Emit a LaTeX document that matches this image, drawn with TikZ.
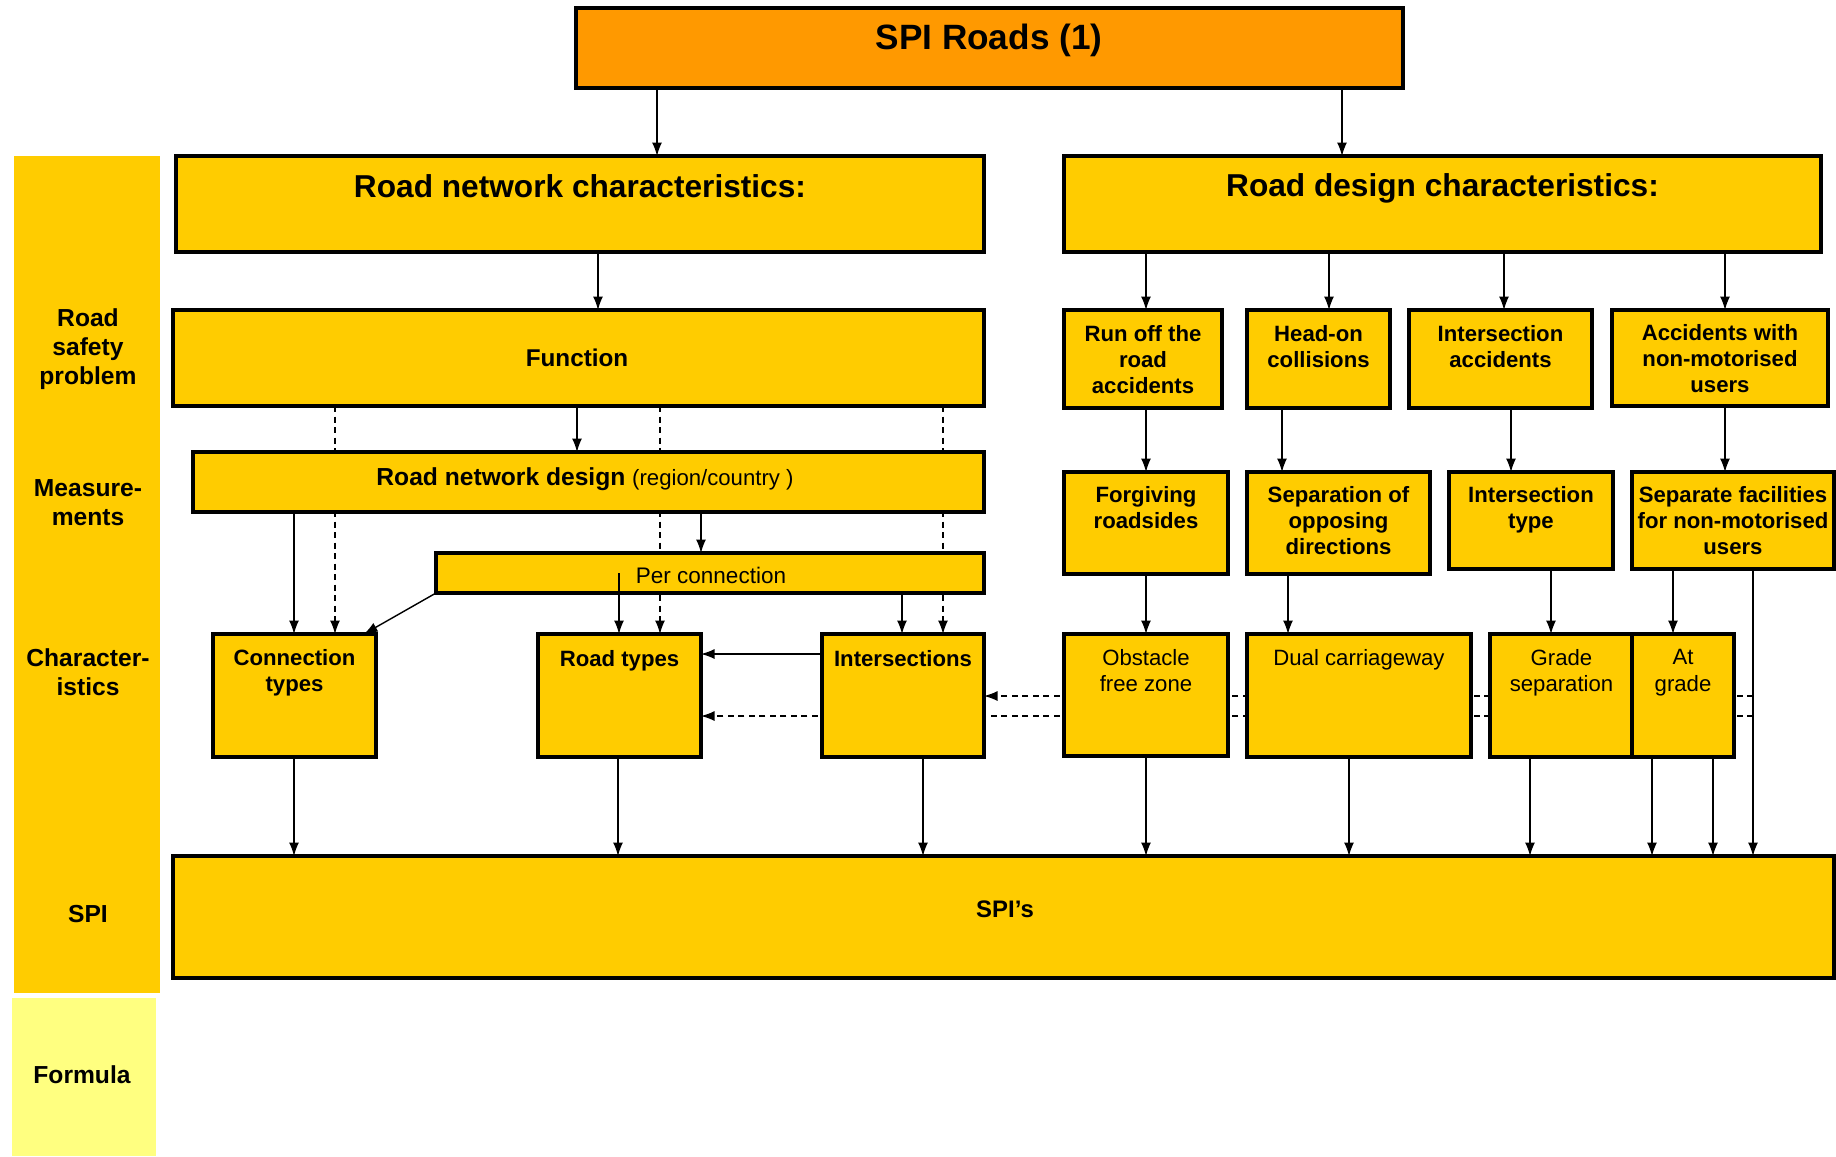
\documentclass[tikz,border=0pt]{standalone}
\usepackage{fontspec}
\setmainfont{Liberation Sans}
\usetikzlibrary{arrows.meta,fit,calc}
\definecolor{ylw}{HTML}{FFCC00}
\definecolor{org}{HTML}{FF9900}
\definecolor{lyl}{HTML}{FFFF80}
\pgfdeclarelayer{bg}
\pgfsetlayers{bg,main}
\begin{document}
\begin{tikzpicture}[x=0.01cm,y=-0.01cm,
 box/.style={draw=black, line width=0.9pt, fill=ylw, inner sep=0pt, outer sep=0pt},
 band/.style={fill=ylw, inner sep=0pt, outer sep=0pt},
 arr/.style={-{Latex[length=1.35mm,width=1mm]}, line width=0.4pt},
 dsh/.style={arr, dash pattern=on 0.6mm off 0.45mm},
 bt/.style={anchor=north, inner sep=0pt, align=center, font=\fontsize{6.3}{7.4}\selectfont\bfseries},
 rtx/.style={anchor=north, inner sep=0pt, align=center, font=\fontsize{6.3}{7.4}\selectfont},
 sidelab/.style={inner sep=0pt, align=center, font=\fontsize{7}{8.2}\selectfont\bfseries},
 ttl/.style={anchor=north, inner sep=0pt, font=\fontsize{9}{11}\selectfont\bfseries}]
\useasboundingbox (0,0) rectangle (1836,1156);

% left column
\node[band, fit={(14,156) (160,993)}] (lcol) {};
\node[band, fill=lyl, fit={(12,998) (156,1156)}] (formula) {};
\node[sidelab] (lab1) at (88,349) {Road\\safety\\problem};
\node[sidelab] (lab2) at (88,503) {Measure-\\ments};
\node[sidelab] (lab3) at (88,672) {Character-\\istics};
\node[sidelab] (lab4) at (88,914) {SPI};
\node[sidelab] (lab5) at (82,1075) {Formula};

% boxes
\node[box, fill=org, fit={(576,8) (1403,88)}] (top) {};
\node[inner sep=0pt, font=\fontsize{10}{12}\selectfont\bfseries] (top-t) at (989,40) {SPI Roads (1)};

\node[box, fit={(176,156) (984,252)}] (rnc) {};
\node[ttl] (rnc-t) at ([yshift=-0.175cm]rnc.north) {Road network characteristics:};
\node[box, fit={(1064,156) (1821,252)}] (rdc) {};
\node[ttl] (rdc-t) at ([yshift=-0.165cm]rdc.north) {Road design characteristics:};

\node[box, fit={(173,310) (984,406)}] (func) {};
\node[inner sep=0pt, font=\fontsize{6.9}{8}\selectfont\bfseries] (func-t) at (577,358) {Function};

\node[box, fit={(193,452) (984,512)}] (rnd) {};
\node[inner sep=0pt] (rnd-t) at (585,479) {\fontsize{7}{8}\selectfont\bfseries Road network design \fontsize{6.3}{8}\selectfont\mdseries(region/country )};

\node[box, fit={(436,553) (984,593)}] (pc) {};
\node[inner sep=0pt, font=\fontsize{6.4}{8}\selectfont] (pc-t) at (711,575) {Per connection};

\node[box, fit={(213,634) (376,757)}] (ct) {};
\node[bt] (ct-t) at ([yshift=-0.15cm]ct.north) {Connection\\types};
\node[box, fit={(538,634) (701,757)}] (rt) {};
\node[bt] (rt-t) at ([yshift=-0.155cm]rt.north) {Road types};
\node[box, fit={(822,634) (984,757)}] (inter) {};
\node[bt] (inter-t) at ([yshift=-0.155cm]inter.north) {Intersections};

% right side problems
\node[box, fit={(1064,310) (1222,408)}] (p1) {};
\node[bt] (p1-t) at ([yshift=-0.15cm]p1.north) {Run off the\\road\\accidents};
\node[box, fit={(1247,310) (1390,408)}] (p2) {};
\node[bt] (p2-t) at ([yshift=-0.15cm]p2.north) {Head-on\\collisions};
\node[box, fit={(1409,310) (1592,408)}] (p3) {};
\node[bt] (p3-t) at ([yshift=-0.15cm]p3.north) {Intersection\\accidents};
\node[box, fit={(1612,310) (1828,406)}] (p4) {};
\node[bt] (p4-t) at ([yshift=-0.14cm]p4.north) {Accidents with\\non-motorised\\users};

% measurements
\node[box, fit={(1064,472) (1228,574)}] (m1) {};
\node[bt] (m1-t) at ([yshift=-0.14cm]m1.north) {Forgiving\\roadsides};
\node[box, fit={(1247,472) (1430,574)}] (m2) {};
\node[bt] (m2-t) at ([yshift=-0.14cm]m2.north) {Separation of\\opposing\\directions};
\node[box, fit={(1449,472) (1613,569)}] (m3) {};
\node[bt] (m3-t) at ([yshift=-0.14cm]m3.north) {Intersection\\type};
\node[box, fit={(1632,472) (1834,569)}] (m4) {};
\node[bt] (m4-t) at ([yshift=-0.14cm]m4.north) {Separate facilities\\for non-motorised\\users};

% characteristics
\node[box, fit={(1064,634) (1228,756)}] (c1) {};
\node[rtx] (c1-t) at ([yshift=-0.15cm]c1.north) {Obstacle\\free zone};
\node[box, fit={(1247,634) (1471,757)}] (c2) {};
\node[rtx] (c2-t) at ([yshift=-0.15cm]c2.north) {Dual carriageway};
\node[box, fit={(1490,634) (1633,757)}] (c3) {};
\node[rtx] (c3-t) at ([yshift=-0.15cm]c3.north) {Grade\\separation};
\node[box, fit={(1632,634) (1734,757)}] (c4) {};
\node[rtx] (c4-t) at ([yshift=-0.15cm]c4.north) {At\\grade};

% SPI
\node[box, fit={(173,856) (1834,978)}] (spi) {};
\node[inner sep=0pt, font=\fontsize{6.8}{8}\selectfont\bfseries] (spi-t) at (1005,909) {SPI\char"27 s};

\coordinate (d1) at (1753,696);
\coordinate (d2) at (1753,716);
\coordinate (pcr) at (619,573);

% hidden (background) connectors
\begin{pgfonlayer}{bg}
\draw[dsh] (335,0 |- func.south) -- (335,0 |- ct.north);
\draw[dsh] (660,0 |- func.south) -- (660,0 |- rt.north);
\draw[dsh] (943,0 |- func.south) -- (943,0 |- inter.north);
\draw[dsh] (d1) -- (d1 -| inter.east);
\draw[dsh] (d2) -- (d2 -| rt.east);
\end{pgfonlayer}

% solid connectors
\draw[arr] (657,0 |- top.south) -- (657,0 |- rnc.north);
\draw[arr] (1342,0 |- top.south) -- (1342,0 |- rdc.north);
\draw[arr] (598,0 |- rnc.south) -- (598,0 |- func.north);
\draw[arr] (577,0 |- func.south) -- (577,0 |- rnd.north);
\draw[arr] (294,0 |- rnd.south) -- (294,0 |- ct.north);
\draw[arr] (701,0 |- rnd.south) -- (701,0 |- pc.north);
\draw[arr] (pc.south west) -- (364,0 |- ct.north);
\draw[arr] (pcr) -- (pcr |- rt.north);
\draw[arr] (902,0 |- pc.south) -- (902,0 |- inter.north);
\draw[arr] (inter.west |- 0,654) -- (rt.east |- 0,654);

\draw[arr] (1146,0 |- rdc.south) -- (1146,0 |- p1.north);
\draw[arr] (1329,0 |- rdc.south) -- (1329,0 |- p2.north);
\draw[arr] (1504,0 |- rdc.south) -- (1504,0 |- p3.north);
\draw[arr] (1725,0 |- rdc.south) -- (1725,0 |- p4.north);

\draw[arr] (1146,0 |- p1.south) -- (1146,0 |- m1.north);
\draw[arr] (1282,0 |- p2.south) -- (1282,0 |- m2.north);
\draw[arr] (1511,0 |- p3.south) -- (1511,0 |- m3.north);
\draw[arr] (1725,0 |- p4.south) -- (1725,0 |- m4.north);

\draw[arr] (1146,0 |- m1.south) -- (1146,0 |- c1.north);
\draw[arr] (1288,0 |- m2.south) -- (1288,0 |- c2.north);
\draw[arr] (1551,0 |- m3.south) -- (1551,0 |- c3.north);
\draw[arr] (1673,0 |- m4.south) -- (1673,0 |- c4.north);

\draw[arr] (294,0 |- ct.south) -- (294,0 |- spi.north);
\draw[arr] (618,0 |- rt.south) -- (618,0 |- spi.north);
\draw[arr] (923,0 |- inter.south) -- (923,0 |- spi.north);
\draw[arr] (1146,0 |- c1.south) -- (1146,0 |- spi.north);
\draw[arr] (1349,0 |- c2.south) -- (1349,0 |- spi.north);
\draw[arr] (1530,0 |- c3.south) -- (1530,0 |- spi.north);
\draw[arr] (1652,0 |- c4.south) -- (1652,0 |- spi.north);
\draw[arr] (1713,0 |- c4.south) -- (1713,0 |- spi.north);
\draw[arr] (1753,0 |- m4.south) -- (1753,0 |- spi.north);
\end{tikzpicture}
\end{document}
